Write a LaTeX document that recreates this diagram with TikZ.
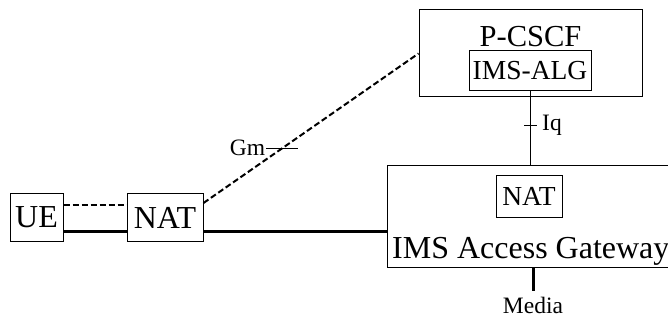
\documentclass[tikz,border=0pt]{standalone}
\usepackage{fontspec}
\setmainfont{Liberation Serif}
\usetikzlibrary{calc}
\newcommand{\bigtxt}{\fontsize{32}{36}\selectfont}
\newcommand{\midtxt}{\fontsize{30.5}{34}\selectfont}
\newcommand{\boxtxt}{\fontsize{27.5}{31}\selectfont}
\newcommand{\lbltxt}{\fontsize{23.5}{27}\selectfont}
\tikzset{
  unit/.style={draw,line width=1pt,inner sep=0pt,font=\bigtxt},
  inbox/.style={draw,line width=1pt,inner sep=0pt,font=\boxtxt},
  sig/.style={line width=2pt,dash pattern=on 6pt off 3pt},
  media/.style={line width=3pt},
  iface/.style={line width=0.8pt}
}
\begin{document}
\begin{tikzpicture}[x=1pt,y=-1pt]
  \useasboundingbox (0,0) rectangle (668,320);
  % terminal side
  \node[unit,minimum width=53pt,minimum height=47pt] (ue) at (36.5,217.5) {UE};
  \node[unit,minimum width=76pt,minimum height=47pt] (nat) at (165,217.5) {NAT};
  % P-CSCF with its ALG
  \node[draw,line width=1pt,minimum width=223pt,minimum height=87pt] (pcscf) at (530.5,53.5) {};
  \node[font=\midtxt,anchor=base] (pcscftxt) at (530.5,47) {P-CSCF};
  \node[inbox,minimum width=122pt,minimum height=40pt] (alg) at (530,71) {IMS-ALG};
  % access gateway (runs off the right edge)
  \node[draw,line width=1pt,minimum width=320pt,minimum height=101pt] (gw) at (547,216.5) {};
  \node[inbox,minimum width=66pt,minimum height=41pt] (gwnat) at (529,196.5) {NAT};
  \node[font=\bigtxt,anchor=base west,inner sep=0pt] (gwtxt) at (392,258) {IMS Access Gateway};
  % UE -- NAT
  \draw[sig] ([yshift=12.5pt]ue.east) -- ([yshift=12.5pt]nat.west);
  \draw[media] ([yshift=-13.5pt]ue.east) -- ([yshift=-13.5pt]nat.west);
  \draw[media] ([yshift=-13.5pt]nat.east) -- ([yshift=-14.5pt]gw.west);
  % Gm
  \draw[sig] ([yshift=14.5pt]nat.east) -- coordinate[pos=0.367] (gm) (pcscf.west);
  \draw[iface] ([xshift=-16pt]gm) -- ([xshift=16pt]gm);
  \node[font=\lbltxt,anchor=east,inner sep=1pt] (gmtxt) at ([xshift=-16pt]gm) {Gm};
  % Iq
  \draw[iface] (alg.south) -- coordinate[pos=0.453] (iq) (alg.south |- gw.north);
  \draw[iface] ([xshift=-6pt]iq) -- ([xshift=7pt]iq);
  \node[font=\lbltxt,anchor=west,inner sep=0pt] (iqtxt) at ([xshift=12pt]iq) {Iq};
  % media leg
  \coordinate (md) at ([xshift=3pt]alg.south |- gw.south);
  \draw[media] (md) -- ++(0,23) coordinate (mdend);
  \node[font=\lbltxt,anchor=north,inner sep=0pt] (mdtxt) at ([yshift=-6pt]mdend) {Media};
\end{tikzpicture}
\end{document}
